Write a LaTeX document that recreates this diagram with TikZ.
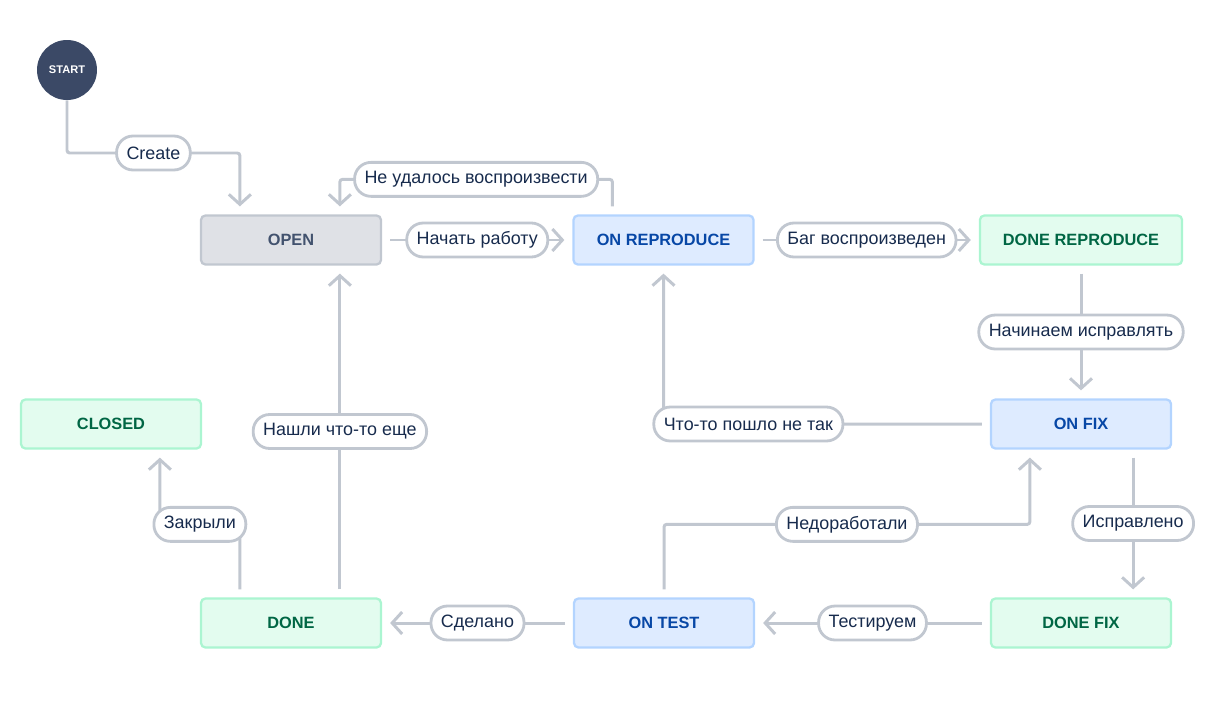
\documentclass[tikz,border=0pt]{standalone}
\usepackage{fontspec}
\setmainfont{Liberation Sans}
\usetikzlibrary{calc}
\usetikzlibrary{arrows.meta}

\definecolor{edgegray}{HTML}{C1C7D0}
\definecolor{lbltext}{HTML}{172B4D}
\definecolor{startfill}{HTML}{3B4966}
\definecolor{todofill}{HTML}{DFE1E6}
\definecolor{todotext}{HTML}{42526E}
\definecolor{progfill}{HTML}{DEEBFF}
\definecolor{progline}{HTML}{B3D4FF}
\definecolor{progtext}{HTML}{0747A6}
\definecolor{donefill}{HTML}{E3FCEF}
\definecolor{doneline}{HTML}{ABF5D1}
\definecolor{donetext}{HTML}{006644}

\begin{document}
\begin{tikzpicture}[x=0.02cm, y=-0.02cm,
	state/.style={rectangle, rounded corners=2.5pt, line width=1.3pt, minimum width=3.6cm, minimum height=0.98cm, inner xsep=0.46cm, font=\fontsize{9.3}{11}\selectfont\bfseries},
	todostate/.style={state, draw=edgegray, fill=todofill, text=todotext},
	progstate/.style={state, draw=progline, fill=progfill, text=progtext},
	donestate/.style={state, draw=doneline, fill=donefill, text=donetext},
	lbl/.style={rectangle, draw=edgegray, fill=white, line width=1.6pt, rounded corners=0.33cm, minimum height=0.68cm, inner xsep=0.2cm, inner ysep=0pt, text=lbltext, font=\fontsize{10.2}{12}\selectfont},
	flow/.style={draw=edgegray, line width=1.7pt, rounded corners=1.5pt, shorten <=0.16cm, shorten >=0.16cm, -{Straight Barb[length=0.2cm, width=0.44cm]}}]
	\useasboundingbox (0,0) rectangle (1217,717);

	% states
	\node[circle, fill=startfill, text=white, minimum size=1.2cm, inner sep=0pt, font=\fontsize{6.3}{7}\selectfont\bfseries] (start) at (67,70) {START};
	\node[todostate] (open) at (291,240) {OPEN};
	\node[progstate] (onrep) at (663.5,240) {ON REPRODUCE};
	\node[donestate] (donerep) at (1081,240) {DONE REPRODUCE};
	\node[progstate] (onfix) at (1081,424) {ON FIX};
	\node[donestate] (closed) at (111,424) {CLOSED};
	\node[donestate] (done) at (291,623) {DONE};
	\node[progstate] (ontest) at (664,623) {ON TEST};
	\node[donestate] (donefix) at (1081,623) {DONE FIX};

	% transitions
	\draw[flow, shorten <=0pt] (start) -- ++(0,83) -| node[lbl, pos=0.25] {Create} ($(open.north west)+(40,0)$);
	\draw[flow] ($(onrep.north west)+(40,0)$) -- ++(0,-35) -| node[lbl, pos=0.25] {Не удалось воспроизвести} ($(open.north west)+(140,0)$);
	\draw[flow] (open) -- node[lbl] {Начать работу} (onrep);
	\draw[flow] (onrep) -- node[lbl] {Баг воспроизведен} (donerep);
	\draw[flow] (donerep) -- node[lbl] {Начинаем исправлять} (onfix);
	\draw[flow] (onfix) -| node[lbl, pos=0.37] {Что-то пошло не так} (onrep);
	\draw[flow] ($(onfix.south east)+(-39,0)$) -- node[lbl] {Исправлено} ($(donefix.north east)+(-39,0)$);
	\draw[flow] (ontest.north) -- ++(0,-73) -| node[lbl, pos=0.25] {Недоработали} ($(onfix.south west)+(40,0)$);
	\draw[flow] (donefix) -- node[lbl] {Тестируем} (ontest);
	\draw[flow] (ontest) -- node[lbl] {Сделано} (done);
	\draw[flow] ($(done.north west)+(140,0)$) -- node[lbl] {Нашли что-то еще} ($(open.south west)+(140,0)$);
	\draw[flow] ($(done.north west)+(40,0)$) -- ++(0,-73) -| node[lbl, pos=0.25] {Закрыли} ($(closed.south west)+(140,0)$);
\end{tikzpicture}
\end{document}
